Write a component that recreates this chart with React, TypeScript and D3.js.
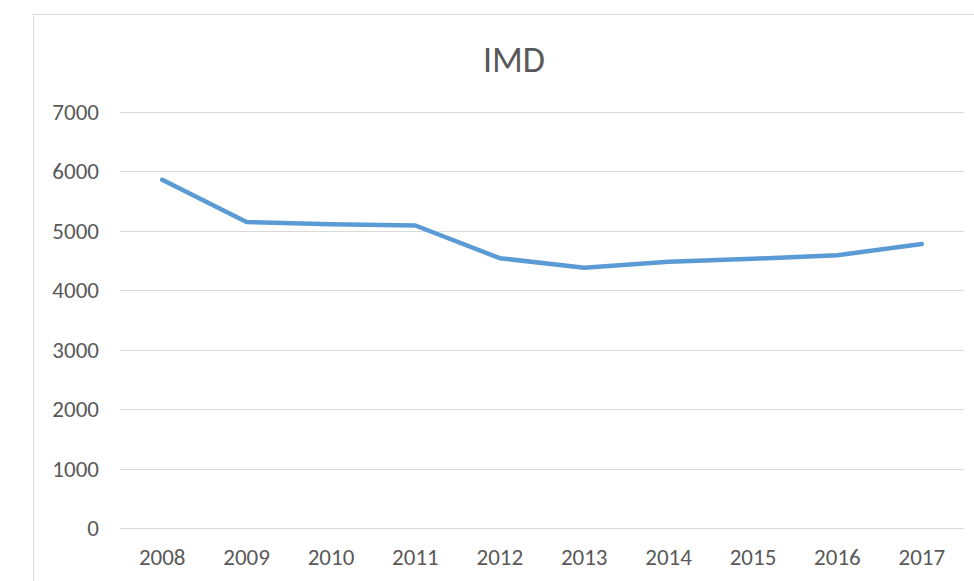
import React, { useEffect, useRef } from 'react';
import * as d3 from 'd3';

const years = ['2008', '2009', '2010', '2011', '2012', '2013', '2014', '2015', '2016', '2017'];
const imdValues = [5860, 5150, 5110, 5090, 4540, 4380, 4480, 4530, 4590, 4780];
const yTicks = [0, 1000, 2000, 3000, 4000, 5000, 6000, 7000];

const WIDTH = 974;
const HEIGHT = 581;
const FONT = "Carlito, Calibri, 'Liberation Sans', Arial, sans-serif";

export default function App() {
  const svgRef = useRef<SVGSVGElement>(null);

  useEffect(() => {
    if (!svgRef.current) return;
    const svg = d3.select(svgRef.current);
    svg.selectAll('*').remove();

    const plot = { left: 120, right: 964, top: 112, bottom: 528 };

    // chart frame (right and bottom edges fall outside the picture)
    svg.append('rect')
      .attr('x', 33.5)
      .attr('y', 14.5)
      .attr('width', 1000)
      .attr('height', 700)
      .attr('fill', '#fff')
      .attr('stroke', '#d9d9d9')
      .attr('stroke-width', 1);

    svg.append('text')
      .attr('x', 514)
      .attr('y', 72)
      .attr('text-anchor', 'middle')
      .attr('fill', '#595959')
      .style('font-family', FONT)
      .style('font-size', '36px')
      .text('IMD');

    const x = d3.scaleBand()
      .domain(years)
      .range([plot.left, plot.right]);

    const y = d3.scaleLinear()
      .domain([0, 7000])
      .range([plot.bottom, plot.top]);

    const grid = svg.append('g');
    grid.selectAll('line')
      .data(yTicks)
      .enter()
      .append('line')
      .attr('x1', plot.left)
      .attr('x2', plot.right)
      .attr('y1', d => Math.round(y(d)) + 0.5)
      .attr('y2', d => Math.round(y(d)) + 0.5)
      .attr('stroke', '#d9d9d9')
      .attr('stroke-width', 1);

    svg.append('g')
      .selectAll('text')
      .data(yTicks)
      .enter()
      .append('text')
      .attr('x', 99)
      .attr('y', d => y(d))
      .attr('dy', '0.35em')
      .attr('text-anchor', 'end')
      .attr('fill', '#595959')
      .style('font-family', FONT)
      .style('font-size', '23px')
      .text(d => String(d));

    svg.append('g')
      .selectAll('text')
      .data(years)
      .enter()
      .append('text')
      .attr('x', d => (x(d) || 0) + x.bandwidth() / 2)
      .attr('y', 557)
      .attr('dy', '0.35em')
      .attr('text-anchor', 'middle')
      .attr('fill', '#595959')
      .style('font-family', FONT)
      .style('font-size', '23px')
      .text(d => d);

    const line = d3.line<number>()
      .x((_, i) => (x(years[i]) || 0) + x.bandwidth() / 2)
      .y(d => y(d));

    svg.append('path')
      .datum(imdValues)
      .attr('d', line)
      .attr('fill', 'none')
      .attr('stroke', '#5b9bd5')
      .attr('stroke-width', 4.5)
      .attr('stroke-linecap', 'round')
      .attr('stroke-linejoin', 'round');
  }, []);

  return (
    <svg
      ref={svgRef}
      width={WIDTH}
      height={HEIGHT}
      style={{ position: 'fixed', left: 0, top: 0, display: 'block', background: '#fff' }}
    />
  );
}
